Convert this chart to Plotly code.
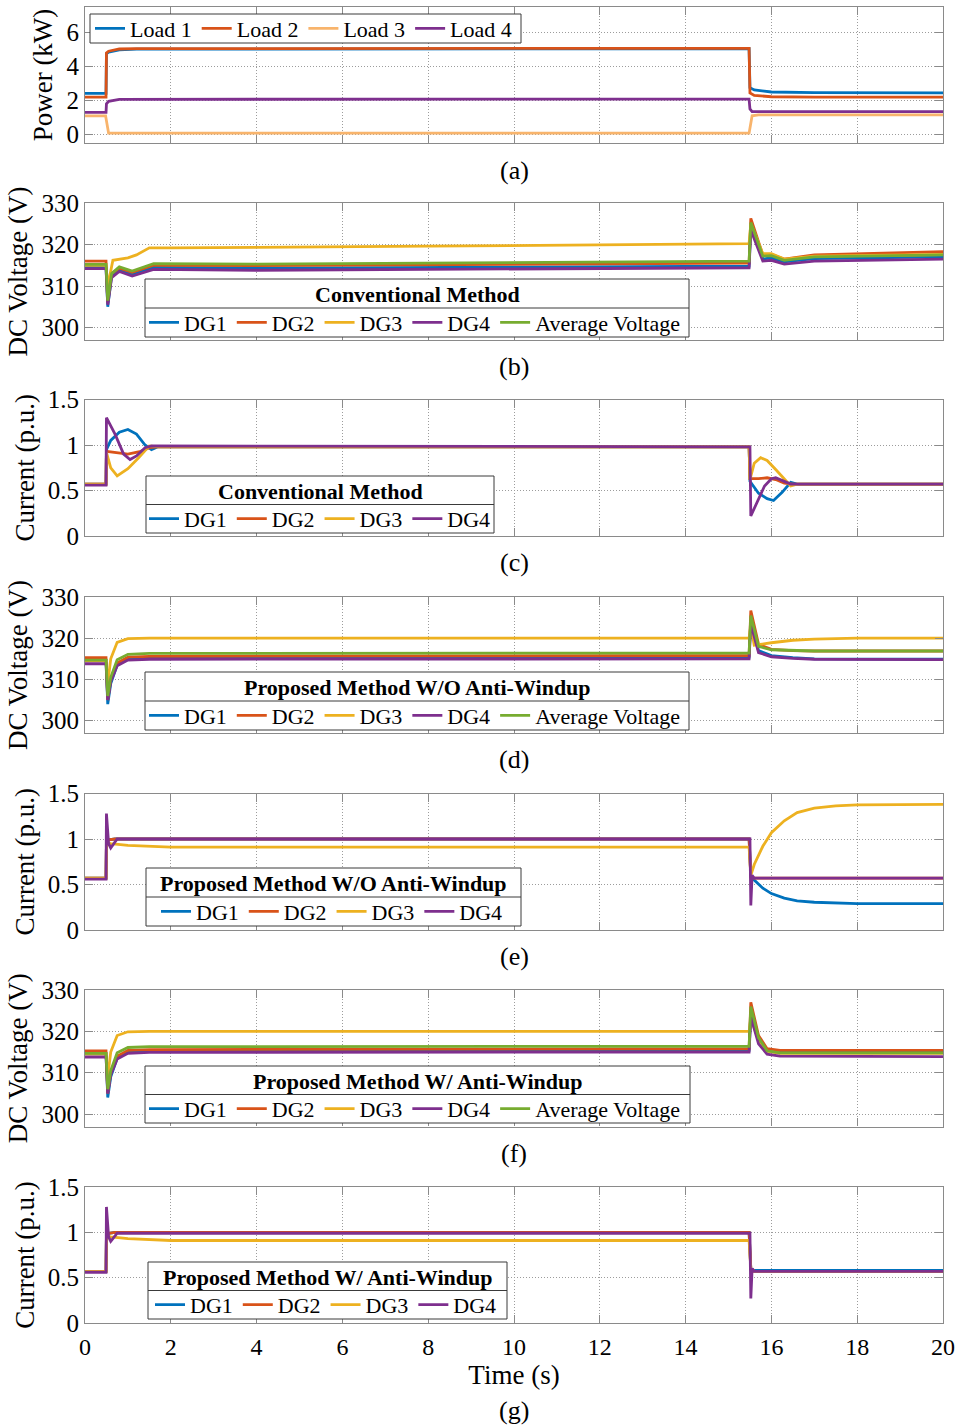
import plotly.graph_objects as go

W, H = 963, 1427
FONT = "Liberation Serif"

C_BLUE = "#0072BD"
C_ORANGE = "#D95319"
C_YELLOW = "#EDB120"
C_PURPLE = "#7E2F8E"
C_GREEN = "#77AC30"
C_PEACH = "#F8B46C"

# ---------------- Panel (a): load power (kW) ----------------
t_a12 = [0, 0.49, 0.5, 0.55, 0.8, 1.2, 15.48, 15.5, 15.6, 16.0, 17.0, 20]
p_load1 = [2.42, 2.42, 4.75, 4.85, 4.98, 5.02, 5.05, 2.75, 2.62, 2.5, 2.46, 2.45]
p_load2 = [2.2, 2.2, 4.8, 4.9, 5.03, 5.05, 5.07, 2.45, 2.3, 2.22, 2.2, 2.2]
t_a3 = [0, 0.48, 0.55, 15.48, 15.55, 15.7, 20]
p_load3 = [1.1, 1.1, 0.08, 0.08, 1.1, 1.15, 1.15]
t_a4 = [0, 0.49, 0.5, 0.55, 0.8, 15.48, 15.5, 15.55, 20]
p_load4 = [1.3, 1.3, 1.8, 1.95, 2.07, 2.08, 1.5, 1.35, 1.35]

# ---------------- Panel (b): conventional, DC voltage ----------------
t_b = [0, 0.49, 0.53, 0.62, 0.8, 1.1, 1.6, 4, 15.48, 15.52, 15.8, 16.0, 16.3, 17, 20]
vb_dg1 = [314.6, 314.6, 305.0, 312.5, 314.0, 312.8, 314.5, 314.3, 314.8, 324.5, 316.5, 316.8, 315.8, 316.6, 317.0]
vb_dg2 = [316.0, 316.0, 306.0, 313.0, 314.3, 313.3, 315.0, 314.9, 315.5, 326.3, 317.5, 317.6, 316.5, 317.5, 318.3]
vb_dg4 = [314.2, 314.2, 305.5, 312.0, 313.5, 312.4, 314.0, 313.8, 314.4, 323.5, 316.0, 316.2, 315.3, 316.0, 316.5]
vb_avg = [315.2, 315.2, 306.5, 313.0, 314.6, 313.6, 315.4, 315.3, 316.0, 325.3, 317.2, 317.3, 316.2, 317.0, 317.5]
t_b3 = [0, 0.49, 0.53, 0.65, 1.0, 1.2, 1.5, 2, 8, 15.48, 15.52, 15.8, 16.0, 16.3, 17, 20]
vb_dg3 = [315.0, 315.0, 310.0, 316.2, 316.8, 317.5, 319.2, 319.2, 319.6, 320.2, 325.0, 317.8, 317.8, 316.5, 317.2, 317.6]

# ---------------- Panel (c): conventional, current (p.u.) ----------------
t_c1 = [0, 0.49, 0.5, 0.6, 0.8, 1.0, 1.2, 1.4, 1.55, 1.7, 15.48, 15.5, 15.7, 15.9, 16.05, 16.25, 16.45, 16.6, 20]
ic_dg1 = [0.57, 0.57, 0.95, 1.05, 1.14, 1.17, 1.12, 1.0, 0.95, 0.98, 0.98, 0.6, 0.47, 0.41, 0.39, 0.48, 0.59, 0.57, 0.57]
t_c2 = [0, 0.49, 0.5, 0.7, 1.0, 1.3, 1.5, 1.7, 15.48, 15.5, 15.7, 15.9, 16.1, 16.3, 16.5, 20]
ic_dg2 = [0.57, 0.57, 0.93, 0.92, 0.9, 0.93, 0.97, 0.98, 0.98, 0.63, 0.63, 0.64, 0.62, 0.58, 0.57, 0.57]
t_c3 = [0, 0.49, 0.5, 0.6, 0.75, 1.0, 1.25, 1.5, 1.7, 15.48, 15.5, 15.6, 15.75, 15.9, 16.1, 16.3, 16.45, 16.6, 20]
ic_dg3 = [0.57, 0.57, 0.92, 0.75, 0.66, 0.74, 0.86, 0.99, 0.98, 0.98, 0.62, 0.8, 0.86, 0.83, 0.73, 0.62, 0.55, 0.57, 0.57]
t_c4 = [0, 0.49, 0.5, 0.7, 0.9, 1.05, 1.2, 1.4, 1.55, 15.48, 15.5, 15.52, 15.65, 15.84, 16.0, 16.1, 16.3, 16.45, 20]
ic_dg4 = [0.56, 0.56, 1.3, 1.12, 0.9, 0.84, 0.88, 0.97, 0.99, 0.98, 0.98, 0.22, 0.35, 0.55, 0.63, 0.64, 0.6, 0.57, 0.57]

# ---------------- Panel (d): proposed w/o anti-windup, DC voltage ----------------
t_d = [0, 0.49, 0.53, 0.6, 0.75, 1.0, 1.5, 15.48, 15.52, 15.7, 16.0, 16.5, 17, 20]
vd_dg1 = [314.6, 314.6, 304.0, 309.0, 313.5, 315.0, 315.2, 315.4, 324.5, 317.0, 315.8, 315.3, 315.0, 314.9]
vd_dg2 = [315.3, 315.3, 305.0, 310.0, 314.0, 315.4, 315.6, 315.8, 326.7, 318.5, 317.3, 317.0, 316.9, 316.9]
vd_dg4 = [313.8, 313.8, 305.0, 309.5, 313.3, 314.7, 314.9, 315.0, 323.5, 316.5, 315.5, 315.1, 314.9, 314.8]
vd_avg = [314.7, 314.7, 306.0, 310.5, 314.8, 316.1, 316.3, 316.4, 325.5, 318.0, 317.2, 317.0, 316.9, 316.9]
t_d3 = [0, 0.49, 0.53, 0.6, 0.75, 1.0, 1.5, 15.48, 15.52, 15.6, 16.0, 16.5, 17, 18, 20]
vd_dg3 = [314.5, 314.5, 309.0, 315.0, 319.0, 319.9, 320.0, 320.0, 323.0, 318.3, 318.9, 319.5, 319.8, 320.0, 320.0]

# ---------------- Panel (e): proposed w/o anti-windup, current ----------------
t_e1 = [0, 0.49, 0.5, 0.55, 0.7, 1.0, 15.48, 15.52, 15.6, 15.8, 16.0, 16.3, 16.6, 17, 17.5, 18, 20]
ie_dg1 = [0.57, 0.57, 0.97, 0.99, 1.0, 1.0, 1.0, 0.6, 0.55, 0.46, 0.4, 0.35, 0.32, 0.305, 0.295, 0.29, 0.29]
t_e2 = [0, 0.49, 0.5, 0.55, 0.7, 15.48, 15.52, 15.6, 20]
ie_dg2 = [0.57, 0.57, 0.97, 0.99, 1.0, 1.0, 0.58, 0.57, 0.57]
t_e3 = [0, 0.49, 0.5, 0.6, 1.0, 2.0, 4.0, 15.48, 15.52, 15.6, 15.8, 16.0, 16.3, 16.6, 17, 17.5, 18, 20]
ie_dg3 = [0.57, 0.57, 0.96, 0.95, 0.93, 0.91, 0.91, 0.91, 0.6, 0.72, 0.92, 1.07, 1.2, 1.29, 1.34, 1.365, 1.375, 1.38]
t_e4 = [0, 0.49, 0.5, 0.55, 0.6, 0.75, 15.48, 15.5, 15.52, 15.55, 15.6, 20]
ie_dg4 = [0.56, 0.56, 1.28, 0.95, 0.9, 1.0, 1.0, 1.0, 0.27, 0.6, 0.57, 0.57]

# ---------------- Panel (f): proposed w/ anti-windup, DC voltage ----------------
t_f = [0, 0.49, 0.53, 0.6, 0.75, 1.0, 1.5, 15.48, 15.52, 15.7, 15.9, 16.2, 20]
vf_dg1 = [314.6, 314.6, 304.0, 309.0, 313.5, 315.0, 315.2, 315.4, 324.5, 318.0, 315.3, 315.0, 315.0]
vf_dg2 = [315.3, 315.3, 305.0, 310.0, 314.0, 315.4, 315.6, 315.8, 327.0, 319.0, 315.8, 315.4, 315.4]
vf_dg3 = [314.5, 314.5, 309.0, 315.0, 319.0, 319.9, 320.0, 320.0, 323.0, 318.0, 315.2, 314.7, 314.7]
vf_dg4 = [313.8, 313.8, 305.0, 309.5, 313.3, 314.7, 314.9, 315.0, 323.5, 317.0, 314.5, 314.0, 313.9]
vf_avg = [314.7, 314.7, 306.0, 310.5, 314.8, 316.1, 316.3, 316.4, 326.0, 318.5, 315.3, 314.8, 314.8]

# ---------------- Panel (g): proposed w/ anti-windup, current ----------------
t_g1 = [0, 0.49, 0.5, 0.55, 0.7, 1.0, 15.48, 15.52, 15.6, 20]
ig_dg1 = [0.57, 0.57, 0.97, 0.99, 1.0, 1.0, 1.0, 0.6, 0.58, 0.58]
ig_dg2 = [0.57, 0.57, 0.97, 0.99, 1.0, 1.0, 1.0, 0.6, 0.57, 0.57]
t_g3 = [0, 0.49, 0.5, 0.6, 1.0, 2.0, 4.0, 15.48, 15.52, 15.6, 20]
ig_dg3 = [0.57, 0.57, 0.96, 0.95, 0.93, 0.91, 0.91, 0.91, 0.6, 0.57, 0.57]
t_g4 = [0, 0.49, 0.5, 0.55, 0.6, 0.75, 15.48, 15.5, 15.52, 15.55, 15.6, 20]
ig_dg4 = [0.56, 0.56, 1.28, 0.95, 0.9, 0.99, 0.99, 0.99, 0.27, 0.6, 0.57, 0.57]

# ---------------- Axis labels / ticks / texts ----------------
x_ticks = [0, 2, 4, 6, 8, 10, 12, 14, 16, 18, 20]
power_ticks = [0, 2, 4, 6]
volt_ticks = [300, 310, 320, 330]
curr_ticks = [0, 0.5, 1, 1.5]
curr_tick_text = ["0", "0.5", "1", "1.5"]
panel_labels = ["(a)", "(b)", "(c)", "(d)", "(e)", "(f)", "(g)"]
legend_titles = [None, "Conventional Method", "Conventional Method",
                 "Proposed Method W/O Anti-Windup", "Proposed Method W/O Anti-Windup",
                 "Proposed Method W/ Anti-Windup", "Proposed Method W/ Anti-Windup"]

# ---------------- Layout geometry (pixels) ----------------
PANEL_PX = [(7, 143), (203, 340), (399.5, 536), (597, 733), (793.5, 930), (990, 1126.5), (1187, 1323)]
X_LEFT, X_RIGHT = 85, 943
LABEL_Y = [170, 366, 563, 759, 956, 1153, 1410]
# legend frame: (x0, x1, y0, y1); legend entries left x
LEGEND_BOX = [(90, 521, 14, 43), (145, 689, 279, 337), (146, 494, 476, 533), (145, 689, 672, 730),
              (146, 521, 868, 926), (145, 690, 1066, 1123), (148, 507, 1262, 1319)]
LEGEND_ITEMS_X = [90, 144, 144, 144, 156, 144, 150]
LEG_FONT = 22

fig = go.Figure()


def ax_ids(i):
    return ("x" if i == 1 else f"x{i}"), ("y" if i == 1 else f"y{i}")


def lg_id(i):
    return "legend" if i == 1 else f"legend{i}"


def add(i, t, v, name, color):
    xa, ya = ax_ids(i)
    fig.add_trace(go.Scatter(x=t, y=v, mode="lines", name=name,
                             line=dict(color=color, width=2.8),
                             xaxis=xa, yaxis=ya, legend=lg_id(i)))


add(1, t_a12, p_load1, "Load 1", C_BLUE)
add(1, t_a12, p_load2, "Load 2", C_ORANGE)
add(1, t_a3, p_load3, "Load 3", C_PEACH)
add(1, t_a4, p_load4, "Load 4", C_PURPLE)

add(2, t_b, vb_dg1, "DG1", C_BLUE)
add(2, t_b, vb_dg2, "DG2", C_ORANGE)
add(2, t_b3, vb_dg3, "DG3", C_YELLOW)
add(2, t_b, vb_dg4, "DG4", C_PURPLE)
add(2, t_b, vb_avg, "Average Voltage", C_GREEN)

add(3, t_c1, ic_dg1, "DG1", C_BLUE)
add(3, t_c2, ic_dg2, "DG2", C_ORANGE)
add(3, t_c3, ic_dg3, "DG3", C_YELLOW)
add(3, t_c4, ic_dg4, "DG4", C_PURPLE)

add(4, t_d, vd_dg1, "DG1", C_BLUE)
add(4, t_d, vd_dg2, "DG2", C_ORANGE)
add(4, t_d3, vd_dg3, "DG3", C_YELLOW)
add(4, t_d, vd_dg4, "DG4", C_PURPLE)
add(4, t_d, vd_avg, "Average Voltage", C_GREEN)

add(5, t_e1, ie_dg1, "DG1", C_BLUE)
add(5, t_e2, ie_dg2, "DG2", C_ORANGE)
add(5, t_e3, ie_dg3, "DG3", C_YELLOW)
add(5, t_e4, ie_dg4, "DG4", C_PURPLE)

add(6, t_f, vf_dg1, "DG1", C_BLUE)
add(6, t_f, vf_dg2, "DG2", C_ORANGE)
add(6, t_f, vf_dg3, "DG3", C_YELLOW)
add(6, t_f, vf_dg4, "DG4", C_PURPLE)
add(6, t_f, vf_avg, "Average Voltage", C_GREEN)

add(7, t_g1, ig_dg1, "DG1", C_BLUE)
add(7, t_g1, ig_dg2, "DG2", C_ORANGE)
add(7, t_g3, ig_dg3, "DG3", C_YELLOW)
add(7, t_g4, ig_dg4, "DG4", C_PURPLE)

AX_COLOR = "#8a8a8a"
GRID = dict(showgrid=True, gridcolor="#9c9c9c", griddash="1px,2px", gridwidth=1)
common = dict(showline=True, linecolor=AX_COLOR, linewidth=1.2, mirror="ticks",
              ticks="inside", ticklen=8, tickcolor=AX_COLOR, tickwidth=1.2,
              zeroline=False, automargin=False,
              tickfont=dict(family=FONT, size=25, color="black"), **GRID)

layout = dict(width=W, height=H, margin=dict(l=0, r=0, t=0, b=0, pad=0, autoexpand=False),
              paper_bgcolor="white", plot_bgcolor="white",
              font=dict(family=FONT, color="black"), showlegend=True)

y_cfg = [
    dict(range=[-0.5, 7.5], tickvals=power_ticks, title="Power (kW)"),
    dict(range=[297, 330], tickvals=volt_ticks, title="DC Voltage (V)"),
    dict(range=[0, 1.5], tickvals=curr_ticks, ticktext=curr_tick_text, title="Current (p.u.)"),
    dict(range=[297, 330], tickvals=volt_ticks, title="DC Voltage (V)"),
    dict(range=[0, 1.5], tickvals=curr_ticks, ticktext=curr_tick_text, title="Current (p.u.)"),
    dict(range=[297, 330], tickvals=volt_ticks, title="DC Voltage (V)"),
    dict(range=[0, 1.5], tickvals=curr_ticks, ticktext=curr_tick_text, title="Current (p.u.)"),
]


def px_x(x):
    return x / W


def px_y(y):
    return 1 - y / H


annotations = []
shapes = []
for i, (top, bot) in enumerate(PANEL_PX, start=1):
    xa, ya = ax_ids(i)
    xkey = "xaxis" if i == 1 else f"xaxis{i}"
    ykey = "yaxis" if i == 1 else f"yaxis{i}"
    xdict = dict(domain=[px_x(X_LEFT), px_x(X_RIGHT)], anchor=ya, range=[0, 20],
                 tickvals=x_ticks, showticklabels=(i == 7), **common)
    if i == 7:
        xdict["title"] = dict(text="Time (s)", font=dict(family=FONT, size=27), standoff=4)
        xdict["ticklabelstandoff"] = 2
        xdict["tickfont"] = dict(family=FONT, size=24, color="black")
    layout[xkey] = xdict
    cfg = y_cfg[i - 1]
    ydict = dict(domain=[px_y(bot), px_y(top)], anchor=xa, range=cfg["range"],
                 tickvals=cfg["tickvals"], ticklabelstandoff=0,
                 title=dict(text=cfg["title"], font=dict(family=FONT, size=27), standoff=5), **common)
    if "ticktext" in cfg:
        ydict["ticktext"] = cfg["ticktext"]
    layout[ykey] = ydict

    annotations.append(dict(text=panel_labels[i - 1], x=px_x((X_LEFT + X_RIGHT) / 2), y=px_y(LABEL_Y[i - 1]),
                            xref="paper", yref="paper", showarrow=False, xanchor="center", yanchor="middle",
                            font=dict(family=FONT, size=26, color="black")))

    # legend frame (white box with border) drawn above the data
    x0, x1, y0, y1 = LEGEND_BOX[i - 1]
    shapes.append(dict(type="rect", xref="paper", yref="paper", layer="above",
                       x0=px_x(x0), x1=px_x(x1), y0=px_y(y1), y1=px_y(y0),
                       fillcolor="white", line=dict(color="#3a3a3a", width=1)))
    if legend_titles[i - 1]:
        ymid = (y0 + y1) / 2
        shapes.append(dict(type="line", xref="paper", yref="paper", layer="above",
                           x0=px_x(x0), x1=px_x(x1), y0=px_y(ymid), y1=px_y(ymid),
                           line=dict(color="#3a3a3a", width=1)))
        annotations.append(dict(text="<b>" + legend_titles[i - 1] + "</b>",
                                x=px_x((x0 + x1) / 2), y=px_y((y0 + ymid) / 2 + 1),
                                xref="paper", yref="paper", showarrow=False,
                                xanchor="center", yanchor="middle",
                                font=dict(family=FONT, size=LEG_FONT, color="black")))
        items_y = (ymid + y1) / 2
    else:
        items_y = (y0 + y1) / 2

    layout[lg_id(i)] = dict(x=px_x(LEGEND_ITEMS_X[i - 1]), y=px_y(items_y), xanchor="left", yanchor="middle",
                            orientation="h", bgcolor="rgba(0,0,0,0)", borderwidth=0,
                            font=dict(family=FONT, size=LEG_FONT, color="black"),
                            itemclick=False, itemdoubleclick=False)

layout["annotations"] = annotations
layout["shapes"] = shapes
fig.update_layout(**layout)
fig.write_html("out.html")
